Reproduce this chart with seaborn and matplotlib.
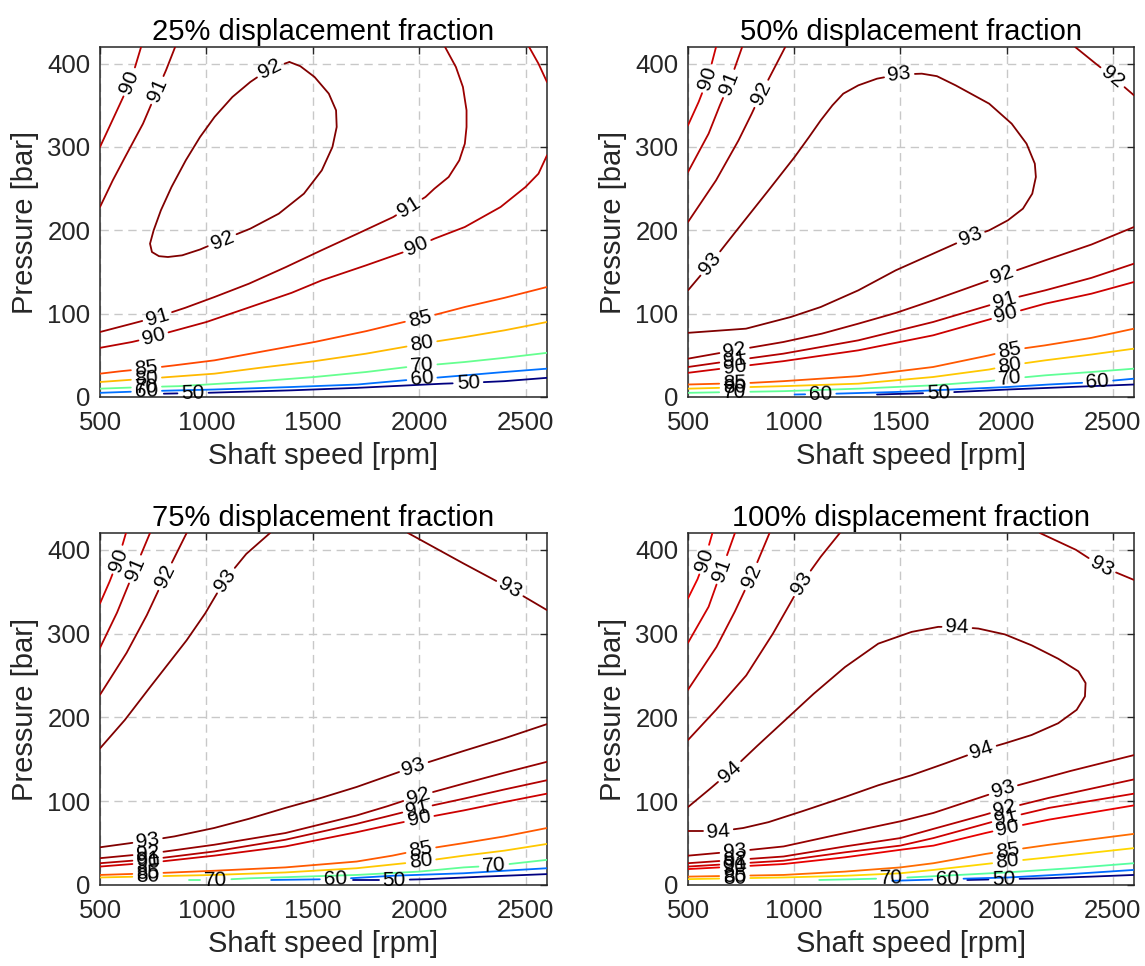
import numpy as np
import pandas as pd
import matplotlib
matplotlib.use("Agg")
import matplotlib.pyplot as plt
import seaborn as sns

# ---------------- data ----------------
TITLES = ["25% displacement fraction", "50% displacement fraction",
          "75% displacement fraction", "100% displacement fraction"]
X_TICKS = [500, 1000, 1500, 2000, 2500]
Y_TICKS = [0, 100, 200, 300, 400]

# contour lines: level -> list of segments of (shaft speed [rpm], pressure [bar])
LINES_25 = {
    50: [[(800, 4), (1000, 5), (1400, 8), (1710, 11), (2113, 16), (2230, 17), (2400, 19), (2600, 23)]],
    60: [[(500, 5), (718, 7), (1038, 9), (1400, 12), (1710, 15), (1928, 20), (2214, 26), (2400, 30), (2600, 34)]],
    70: [[(500, 10), (718, 12), (870, 13), (1200, 18), (1508, 24), (1750, 30), (1945, 36), (2214, 42), (2400, 47), (2600, 53)]],
    80: [[(500, 18), (718, 22), (1038, 28), (1250, 35), (1508, 43), (1750, 52), (1928, 60), (2012, 64), (2214, 72), (2400, 80), (2600, 90)]],
    85: [[(500, 28), (600, 31), (718, 34), (850, 38), (1038, 44), (1250, 54), (1508, 66), (1750, 79), (1928, 90), (2004, 94), (2214, 108), (2400, 119), (2600, 132)]],
    90: [[(500, 300), (560, 333), (620, 366), (660, 392), (693, 420)],
         [(500, 59), (650, 66), (752, 72), (828, 78), (1000, 90), (1206, 108), (1400, 125), (1542, 140), (1750, 158), (1928, 174), (2071, 190), (2214, 204), (2382, 228), (2499, 252), (2560, 268), (2600, 290)],
         [(2516, 420), (2560, 400), (2600, 378)]],
    91: [[(500, 228), (560, 260), (618, 288), (702, 328), (769, 368), (810, 392), (853, 420)],
         [(500, 78), (650, 88), (769, 96), (900, 107), (1038, 120), (1200, 136), (1374, 156), (1540, 176), (1710, 196), (1878, 216), (1953, 228), (2029, 240), (2071, 250), (2138, 264), (2188, 284), (2214, 304), (2222, 324), (2222, 344), (2205, 372), (2172, 396), (2121, 420)]],
    92: [[(1390, 402), (1298, 394), (1206, 378), (1122, 360), (1038, 336), (970, 312), (903, 284), (836, 252), (786, 224), (752, 200), (735, 184), (744, 174), (777, 169), (819, 168), (886, 170), (970, 177), (1071, 188), (1206, 202), (1340, 220), (1458, 244), (1542, 272), (1592, 300), (1612, 324), (1609, 344), (1575, 364), (1508, 384), (1441, 397), (1390, 402)]],
}
LABELS_25 = [(90, 638, 378), (91, 769, 368), (92, 1298, 394), (92, 1071, 190), (91, 769, 96), (90, 752, 72),
             (91, 1953, 228), (90, 1987, 182), (85, 718, 34), (80, 718, 22), (70, 718, 12), (60, 718, 7),
             (50, 937, 5), (85, 2004, 94), (80, 2012, 64), (70, 2012, 38), (60, 2012, 22), (50, 2230, 17)]

LINES_50 = {
    50: [[(1390, 3), (1680, 5), (2006, 9), (2300, 12), (2600, 15)]],
    60: [[(1002, 3), (1125, 3.5), (1478, 6), (2006, 12), (2200, 15), (2429, 18), (2600, 22)]],
    70: [[(500, 5), (949, 7), (1302, 10), (1654, 14), (1918, 19), (2015, 22), (2182, 26), (2400, 30), (2600, 34)]],
    80: [[(500, 10), (949, 13), (1302, 16), (1654, 24), (1918, 33), (2015, 38), (2182, 44), (2400, 51), (2600, 58)]],
    85: [[(500, 15), (800, 17), (949, 19), (1302, 25), (1654, 36), (1918, 50), (2015, 56), (2182, 62), (2400, 71), (2600, 82)]],
    90: [[(500, 326), (550, 354), (593, 382), (632, 420)],
         [(500, 29), (720, 36), (949, 43), (1302, 56), (1654, 74), (1918, 93), (1997, 99), (2182, 112), (2400, 124), (2600, 138)]],
    91: [[(500, 270), (597, 316), (650, 350), (694, 376), (755, 420)],
         [(500, 36), (720, 44), (949, 52), (1302, 68), (1654, 90), (1918, 110), (1989, 116), (2182, 128), (2400, 143), (2600, 160)]],
    92: [[(500, 210), (632, 260), (738, 308), (800, 340), (844, 364), (958, 420)],
         [(2323, 420), (2420, 400), (2500, 384), (2600, 362)],
         [(500, 46), (720, 56), (949, 66), (1130, 76), (1302, 88), (1480, 101), (1654, 116), (1918, 140), (1980, 146), (2182, 164), (2400, 183), (2600, 204)]],
    93: [[(500, 128), (606, 160), (720, 197), (879, 248), (1002, 288), (1070, 312), (1125, 332), (1180, 350), (1231, 364), (1302, 374), (1390, 382), (1495, 387), (1601, 388), (1672, 385), (1760, 374), (1918, 352), (2024, 328), (2094, 304), (2133, 280), (2138, 264), (2121, 244), (2077, 226), (2006, 212), (1918, 200), (1830, 192), (1654, 172), (1478, 152), (1302, 128), (1125, 108), (984, 96), (773, 82), (500, 77)]],
}
LABELS_50 = [(90, 593, 382), (91, 694, 376), (92, 844, 364), (93, 606, 160), (93, 1495, 388), (93, 1830, 192),
             (92, 2500, 384), (92, 720, 56), (91, 720, 44), (90, 720, 36), (85, 720, 18), (80, 720, 12), (70, 720, 6),
             (92, 1980, 146), (91, 1989, 116), (90, 1997, 99), (85, 2015, 56), (80, 2015, 38), (70, 2015, 22),
             (60, 1125, 3.5), (60, 2429, 18), (50, 1680, 5)]

LINES_75 = {
    50: [[(1690, 6), (1882, 6), (2041, 7), (2300, 10), (2600, 13)]],
    60: [[(1304, 6), (1606, 7), (1873, 11), (2209, 14), (2400, 17), (2600, 20)]],
    70: [[(919, 6), (1044, 6), (1204, 8), (1706, 12), (2000, 16), (2209, 21), (2351, 23), (2600, 30)]],
    80: [[(500, 9), (1036, 12), (1371, 15), (1706, 20), (2007, 28), (2209, 35), (2400, 41), (2600, 49)]],
    85: [[(500, 12), (750, 14), (1036, 17), (1371, 21), (1706, 28), (1873, 35), (2007, 42), (2209, 50), (2400, 58), (2600, 68)]],
    90: [[(500, 336), (545, 362), (585, 388), (622, 420)],
         [(500, 22), (750, 27), (1036, 35), (1371, 46), (1706, 63), (1850, 71), (1999, 79), (2209, 89), (2400, 99), (2600, 109)]],
    91: [[(500, 283), (580, 325), (664, 377), (735, 420)],
         [(500, 26), (750, 31), (1036, 40), (1371, 54), (1706, 73), (1850, 82), (1991, 91), (2209, 103), (2400, 114), (2600, 125)]],
    92: [[(500, 227), (625, 277), (720, 322), (805, 368), (907, 420)],
         [(500, 32), (750, 38), (1036, 48), (1371, 62), (1706, 83), (1850, 94), (1994, 106), (2209, 121), (2400, 134), (2600, 147)]],
    93: [[(500, 163), (617, 197), (735, 236), (907, 292), (994, 324), (1087, 364), (1187, 395), (1299, 420)],
         [(1947, 420), (2205, 384), (2426, 354), (2600, 328)],
         [(500, 45), (701, 52), (850, 58), (1036, 68), (1200, 79), (1371, 92), (1540, 104), (1706, 117), (1974, 141), (2209, 160), (2400, 175), (2600, 192)]],
}
LABELS_75 = [(90, 585, 388), (91, 664, 377), (92, 805, 368), (93, 1087, 364), (93, 2426, 354),
             (93, 725, 52), (92, 725, 39), (91, 725, 31), (90, 725, 27), (85, 725, 14), (80, 725, 10),
             (93, 1974, 141), (92, 1994, 106), (91, 1991, 91), (90, 1999, 79), (85, 2007, 42), (80, 2007, 28),
             (70, 1044, 6), (70, 2351, 23), (60, 1606, 7), (50, 1882, 6)]

LINES_100 = {
    50: [[(1815, 6), (1988, 7), (2185, 8), (2400, 10), (2600, 12)]],
    60: [[(1462, 5), (1724, 7), (2009, 9), (2300, 13), (2600, 18)]],
    70: [[(1118, 6), (1300, 7), (1459, 8), (1700, 11), (2000, 15), (2300, 20), (2600, 26)]],
    80: [[(500, 7), (950, 9), (1239, 11), (1500, 14), (1656, 18), (1900, 25), (2005, 28), (2200, 33), (2600, 44)]],
    85: [[(500, 10), (950, 12), (1239, 16), (1500, 21), (1656, 26), (1900, 37), (2005, 41), (2200, 48), (2600, 61)]],
    90: [[(500, 342), (545, 365), (579, 388), (615, 420)],
         [(500, 19), (950, 25), (1239, 33), (1500, 42), (1656, 47), (1900, 62), (2005, 68), (2200, 78), (2600, 95)]],
    91: [[(500, 289), (597, 332), (659, 376), (721, 420)],
         [(500, 22), (950, 29), (1239, 39), (1500, 47), (1656, 56), (1900, 73), (1999, 80), (2200, 92), (2600, 109)]],
    92: [[(500, 233), (634, 284), (720, 326), (798, 368), (884, 420)],
         [(500, 26), (950, 34), (1239, 46), (1500, 56), (1656, 67), (1900, 84), (1992, 91), (2200, 104), (2600, 126)]],
    93: [[(500, 173), (632, 209), (774, 250), (900, 300), (1035, 360), (1126, 392), (1215, 420)],
         [(2157, 420), (2326, 400), (2448, 380), (2600, 364)],
         [(500, 35), (720, 40), (950, 46), (1239, 62), (1500, 76), (1656, 86), (1930, 109), (1983, 114), (2054, 119), (2300, 136), (2600, 155)]],
    94: [[(500, 93), (600, 114), (697, 135), (826, 166), (950, 195), (1091, 228), (1239, 260), (1396, 288), (1553, 302), (1678, 308), (1767, 308), (1867, 306), (1992, 299), (2118, 286), (2243, 270), (2338, 255), (2372, 241), (2369, 225), (2330, 209), (2243, 193), (2118, 179), (1992, 169), (1883, 161), (1710, 145), (1553, 131), (1396, 119), (1239, 105), (1038, 88), (879, 75), (760, 68), (643, 64), (500, 64)]],
}
LABELS_100 = [(90, 579, 388), (91, 659, 376), (92, 798, 368), (93, 1035, 360), (93, 2448, 380),
              (94, 697, 135), (94, 1767, 308), (94, 1883, 161), (94, 643, 64),
              (93, 720, 40), (92, 720, 33), (91, 720, 28), (90, 720, 24), (85, 720, 13), (80, 720, 10),
              (93, 1983, 114), (92, 1992, 91), (91, 1999, 80), (90, 2005, 68), (85, 2005, 41), (80, 2005, 28),
              (70, 1459, 8), (60, 1724, 7), (50, 1988, 7)]

PANELS = [(LINES_25, LABELS_25), (LINES_50, LABELS_50), (LINES_75, LABELS_75), (LINES_100, LABELS_100)]

# ---------------- styling ----------------
sns.set_theme(style="white")
plt.rcParams["font.family"] = ["Liberation Sans", "DejaVu Sans"]
TXT = "#262626"

W, H = 1145, 966
fig = plt.figure(figsize=(W / 100, H / 100), dpi=100)
# axes boxes in pixels: left, top, right, bottom
BOXES = [(100, 47, 547, 397), (688, 47, 1134, 397), (100, 533, 547, 885), (688, 533, 1134, 885)]

LABEL_FS = 15
cmap = plt.get_cmap("jet")


def geom(P):
    d = np.diff(P, axis=0)
    return np.concatenate([[0.0], np.cumsum(np.hypot(d[:, 0], d[:, 1]))])


def point_at(P, s, s0):
    return np.array([np.interp(s0, s, P[:, 0]), np.interp(s0, s, P[:, 1])])


def nearest(P, s, q):
    best = (np.inf, 0.0)
    for i in range(len(P) - 1):
        a, b = P[i], P[i + 1]
        ab = b - a
        L2 = ab @ ab
        t = 0.0 if L2 == 0 else float(np.clip((q - a) @ ab / L2, 0, 1))
        p = a + t * ab
        dist = float(np.hypot(*(q - p)))
        if dist < best[0]:
            best = (dist, s[i] + t * np.sqrt(L2))
    return best


for k, (lines, labels) in enumerate(PANELS):
    l, t, r, b = BOXES[k]
    ax = fig.add_axes([l / W, 1 - b / H, (r - l) / W, (b - t) / H])
    ax.set_xlim(500, 2600)
    ax.set_ylim(0, 420)
    levels = sorted(lines.keys())
    norm = matplotlib.colors.Normalize(vmin=50, vmax=max(levels))
    palette = {lv: cmap(norm(lv)) for lv in levels}

    # display-space polylines
    disp = {}
    for lv in levels:
        disp[lv] = []
        for seg in lines[lv]:
            P = ax.transData.transform(np.array(seg, dtype=float))
            disp[lv].append((P, geom(P)))

    # place labels, collect gaps
    gaps = {(lv, i): [] for lv in levels for i in range(len(lines[lv]))}
    fs_px = LABEL_FS * 100 / 72
    for lv, xv, yv in labels:
        q = ax.transData.transform((xv, yv))
        best = None
        for i, (P, s) in enumerate(disp[lv]):
            dist, s0 = nearest(P, s, q)
            if best is None or dist < best[0]:
                best = (dist, i, s0)
        _, i, s0 = best
        P, s = disp[lv][i]
        half = len(str(lv)) * 0.556 * fs_px / 2 + 4
        gaps[(lv, i)].append((s0 - half, s0 + half))
        pc = point_at(P, s, s0)
        p1 = point_at(P, s, max(0, s0 - 8))
        p2 = point_at(P, s, min(s[-1], s0 + 8))
        ang = np.degrees(np.arctan2(p2[1] - p1[1], p2[0] - p1[0]))
        if ang > 90:
            ang -= 180
        if ang < -90:
            ang += 180
        xd, yd = ax.transData.inverted().transform(pc)
        ax.text(xd, yd, str(lv), rotation=ang, rotation_mode="anchor", ha="center", va="center",
                fontsize=LABEL_FS, color="black", zorder=5, clip_on=False)

    # cut lines around labels and build table
    rows = []
    inv = ax.transData.inverted()
    for lv in levels:
        for i, (P, s) in enumerate(disp[lv]):
            total = s[-1]
            cuts = sorted(gaps[(lv, i)])
            keep, start = [], 0.0
            for a, bb in cuts:
                a, bb = max(0.0, a), min(total, bb)
                if a > start:
                    keep.append((start, a))
                start = max(start, bb)
            if start < total:
                keep.append((start, total))
            for j, (a, bb) in enumerate(keep):
                inner = P[(s > a) & (s < bb)]
                piece = np.vstack([point_at(P, s, a), inner, point_at(P, s, bb)])
                dpts = inv.transform(piece)
                for n, (xx, yy) in enumerate(dpts):
                    rows.append({"speed": xx, "pressure": yy, "level": lv,
                                 "piece": f"{lv}-{i}-{j}", "order": n})
    df = pd.DataFrame(rows)
    sns.lineplot(data=df, x="speed", y="pressure", hue="level", units="piece", estimator=None,
                 sort=False, palette=palette, linewidth=1.3, legend=False, ax=ax, zorder=3)

    ax.set_xlim(500, 2600)
    ax.set_ylim(0, 420)
    ax.set_xticks(X_TICKS)
    ax.set_yticks(Y_TICKS)
    ax.grid(True, linestyle=(0, (6, 4)), color="#c8c8c8", linewidth=1.0)
    ax.set_axisbelow(True)
    ax.tick_params(axis="both", direction="in", length=5, width=1, color=TXT,
                   top=True, right=True, labelsize=18.5, labelcolor=TXT)
    ax.tick_params(axis="x", pad=10)
    ax.tick_params(axis="y", pad=7)
    for sp in ax.spines.values():
        sp.set_color(TXT)
        sp.set_linewidth(1.1)
        sp.set_visible(True)
    ax.set_xlabel("Shaft speed [rpm]", fontsize=21, color=TXT, labelpad=5)
    ax.set_ylabel("Pressure [bar]", fontsize=21, color=TXT, labelpad=6)
    ax.set_title(TITLES[k], fontsize=21, color="black", pad=5)

fig.savefig("out.png", dpi=100, facecolor="white")
